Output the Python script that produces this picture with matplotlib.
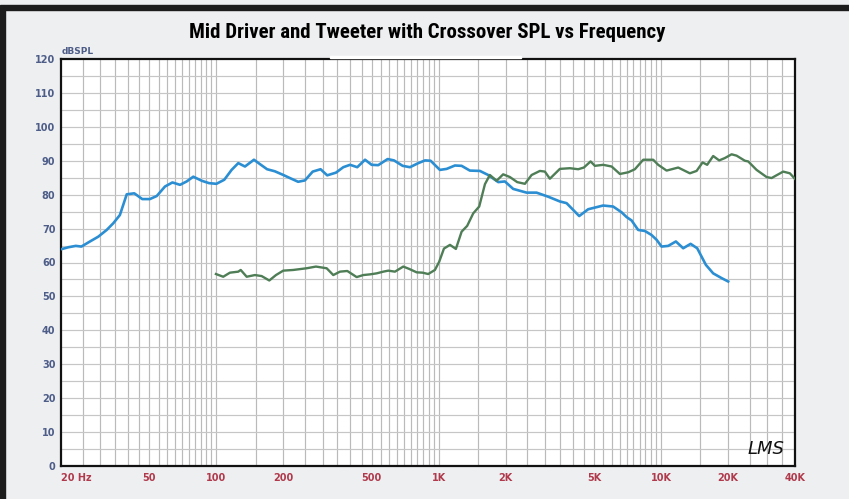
import matplotlib.pyplot as plt
import numpy as np
from matplotlib.patches import Rectangle
from matplotlib.ticker import NullLocator
from matplotlib import font_manager

# mid driver (blue) response
blue_f = [20, 21.6, 23.3, 24.7, 27, 29.4, 32.1, 34.4, 36.8, 39.5,
          42.7, 46.4, 50.2, 53.9, 58.7, 63.4, 68.6, 73.5, 78.7, 85.9,
          92.6, 100, 108.5, 117, 125.4, 134.4, 147.5, 157, 169, 183,
          200, 214, 233, 250, 271, 294, 315, 345, 372, 399,
          430, 466, 499, 534, 589, 629, 688, 742, 809, 867,
          919, 1012, 1085, 1182, 1267, 1380, 1531, 1668, 1851, 1983,
          2161, 2482, 2753, 3105, 3504, 3756, 4281, 4698, 5487, 6085,
          6640, 6993, 7364, 7884, 8451, 9057, 9540, 10046, 10762, 11651,
          12569, 13568, 14529, 15897, 17143, 18704, 20023]
blue_db = [63.9, 64.5, 64.9, 64.7, 66.2, 67.6, 69.6, 71.6, 74.0, 80.1,
           80.4, 78.7, 78.7, 79.6, 82.4, 83.6, 82.9, 83.9, 85.3, 84.1,
           83.4, 83.2, 84.4, 87.3, 89.3, 88.3, 90.3, 89.0, 87.5, 86.9,
           85.8, 84.9, 83.8, 84.2, 86.8, 87.5, 85.7, 86.5, 88.1, 88.8,
           88.1, 90.3, 88.8, 88.7, 90.5, 90.1, 88.5, 88.1, 89.3, 90.1,
           90.0, 87.3, 87.6, 88.6, 88.5, 87.1, 87.0, 85.8, 83.7, 83.9,
           81.7, 80.6, 80.6, 79.4, 78.0, 77.5, 73.7, 75.7, 76.8, 76.5,
           74.8, 73.4, 72.4, 69.6, 69.3, 68.1, 66.7, 64.7, 64.9, 66.2,
           64.2, 65.5, 64.2, 59.3, 56.8, 55.4, 54.4]

# tweeter (green) response
green_f = [99.5, 107.3, 115, 125.4, 128.6, 136.8, 149, 159.7, 172.9, 185.3,
           199.8, 221.6, 254.5, 280.3, 313.2, 335.4, 359.5, 387.8, 427.3, 457.6,
           490.4, 525.6, 562.9, 592.8, 635.2, 692.3, 736.6, 795.3, 845.7, 896.4,
           960.6, 1004, 1055, 1123, 1194, 1267, 1342, 1429, 1520, 1613,
           1697, 1820, 1948, 2088, 2253, 2440, 2615, 2849, 3001, 3160,
           3504, 3887, 4237, 4494, 4816, 5036, 5487, 5990, 6526, 7112,
           7620, 8307, 9211, 9700, 10583, 11933, 13465, 14437, 15362, 16108,
           17143, 18245, 19352, 20745, 21846, 23807, 24636, 26872, 29803, 31385,
           35389, 37927, 39937]
green_db = [56.6, 55.8, 57.0, 57.3, 57.8, 55.8, 56.3, 56.0, 54.7, 56.3,
            57.6, 57.8, 58.3, 58.8, 58.3, 56.3, 57.3, 57.5, 55.7, 56.3,
            56.5, 56.8, 57.3, 57.6, 57.3, 58.8, 58.1, 57.1, 57.0, 56.6,
            57.8, 60.2, 64.1, 65.2, 64.0, 69.1, 70.8, 74.5, 76.5, 83.1,
            85.8, 84.1, 86.0, 85.2, 83.7, 83.2, 85.8, 87.0, 86.8, 84.7,
            87.6, 87.8, 87.5, 88.0, 89.8, 88.5, 88.8, 88.3, 86.1, 86.6,
            87.5, 90.3, 90.3, 88.8, 87.1, 88.0, 86.3, 87.0, 89.5, 88.8,
            91.4, 90.1, 90.8, 91.9, 91.5, 90.0, 89.8, 87.3, 85.2, 84.9,
            86.8, 86.3, 84.7]

x_ticks = [20, 50, 100, 200, 500, 1000, 2000, 5000, 10000, 20000, 40000]
x_labels = ['20 Hz', '50', '100', '200', '500', '1K', '2K', '5K', '10K', '20K', '40K']
y_ticks = list(range(0, 121, 10))

W, H = 849, 499
fig = plt.figure(figsize=(W / 100, H / 100), dpi=100, facecolor='#eeeff1')
ax = fig.add_axes([61 / W, 1 - 466 / H, 734 / W, 407 / H])
ax.set_xscale('log')
ax.set_xlim(20, 40000)
ax.set_ylim(0, 120)

# grid: 1.5, 2, 2.5 ... 10 per decade, every 5 dB
for dec in [10, 100, 1000, 10000]:
    for m in np.arange(1.5, 10.01, 0.5):
        f = m * dec
        if 20 < f < 40000:
            ax.axvline(f, color='#bababa', lw=0.85, zorder=1)
for v in range(5, 120, 5):
    ax.axhline(v, color='#c6c6c6', lw=0.85, zorder=1)

ax.plot(blue_f, blue_db, color='#2b8ed2', lw=1.9, zorder=3)
ax.plot(green_f, green_db, color='#4e7d56', lw=1.7, zorder=3)

ax.set_xticks(x_ticks)
ax.set_xticklabels(x_labels)
ax.xaxis.set_minor_locator(NullLocator())
ax.set_yticks(y_ticks)
ax.tick_params(axis='x', length=0, pad=5, labelsize=7, labelcolor='#b03a4c')
ax.tick_params(axis='y', length=0, pad=4, labelsize=7, labelcolor='#4d5d88')
for lab in ax.get_xticklabels() + ax.get_yticklabels():
    lab.set_fontweight('bold')
ax.get_xticklabels()[0].set_horizontalalignment('left')
for s in ax.spines.values():
    s.set_linewidth(1.6)
    s.set_color('#111111')

fig.text(62 / W, 1 - 52 / H, 'dBSPL', fontsize=6.5, fontweight='bold',
         color='#4d5d88', va='center', ha='left')

# title font: a condensed face if one is there, otherwise shrink to fit
names = {f.name for f in font_manager.fontManager.ttflist}
cond = [n for n in ['Roboto Condensed', 'Liberation Sans Narrow', 'DejaVu Sans Condensed',
                    'Open Sans Condensed'] if n in names]
title = fig.text(427 / W, 1 - 32 / H, 'Mid Driver and Tweeter with Crossover SPL vs Frequency',
                 fontsize=15, fontweight='bold', ha='center', va='center',
                 family=cond + ['DejaVu Sans'], fontstretch='condensed')
fig.canvas.draw()
tw = title.get_window_extent().width
if tw > 490:
    title.set_fontsize(15 * 480 / tw)

fig.text(766 / W, 1 - 449 / H, 'LMS', fontsize=13, fontstyle='italic',
         ha='center', va='center', color='#111111')

# frame around the picture
fig.patches.append(Rectangle((0, 1 - 9.5 / H), 1, 4.5 / H, transform=fig.transFigure,
                             color='#1c1c1c', zorder=5))
fig.patches.append(Rectangle((0, 0), 5 / W, 1 - 9.5 / H, transform=fig.transFigure,
                             color='#1c1c1c', zorder=5))
fig.patches.append(Rectangle((330 / W, 1 - 58 / H), 191 / W, 2 / H, transform=fig.transFigure,
                             color='white', zorder=5))

plt.savefig('out.png', dpi=100, facecolor=fig.get_facecolor())
